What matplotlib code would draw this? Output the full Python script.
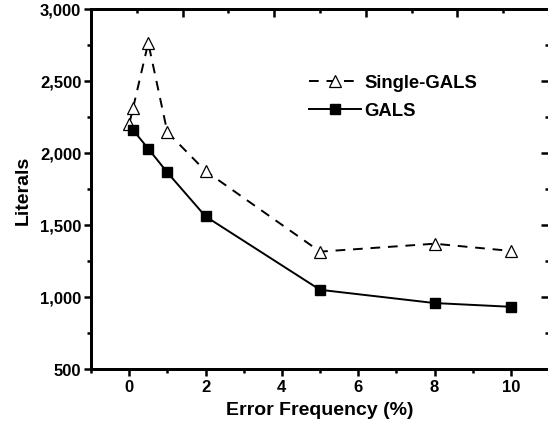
import matplotlib
matplotlib.use('Agg')
import matplotlib.pyplot as plt
from matplotlib.ticker import MultipleLocator, FuncFormatter, NullFormatter

plt.rcParams['font.family'] = 'Liberation Sans'
plt.rcParams['font.weight'] = 'bold'

# data
single_x = [0, 0.1, 0.5, 1, 2, 5, 8, 10]
single_y = [2200, 2310, 2765, 2145, 1875, 1315, 1370, 1320]
gals_x = [0.1, 0.5, 1, 2, 5, 8, 10]
gals_y = [2160, 2030, 1865, 1560, 1050, 958, 932]

fig = plt.figure(figsize=(5.48, 4.27), dpi=100)
ax = fig.add_axes([91/548, 57/427, 458/548, 360/427])

ax.plot(single_x, single_y, color='black', linestyle=(0, (5, 4)), linewidth=1.4,
        marker='^', markersize=8.5, markerfacecolor='white', markeredgecolor='black',
        markeredgewidth=0.9, label='Single-GALS')
ax.plot(gals_x, gals_y, color='black', linestyle='-', linewidth=1.4,
        marker='s', markersize=6.5, markerfacecolor='black', markeredgecolor='black',
        label='GALS')

ax.set_xlim(-1, 11)
ax.set_ylim(500, 3000)
ax.xaxis.set_major_locator(MultipleLocator(2))
ax.xaxis.set_minor_locator(MultipleLocator(1))
ax.yaxis.set_major_locator(MultipleLocator(500))
ax.yaxis.set_minor_locator(MultipleLocator(250))
ax.yaxis.set_major_formatter(FuncFormatter(lambda v, p: '{:,.0f}'.format(v)))

ax.tick_params(which='both', direction='out', width=1.8, labelsize=12, pad=2)
ax.tick_params(which='major', length=5)
ax.tick_params(which='minor', length=3)
for s in ax.spines.values():
    s.set_linewidth(2)

# mirrored right axis, inward ticks
ay = ax.twinx()
ay.set_ylim(ax.get_ylim())
ay.yaxis.set_major_locator(MultipleLocator(500))
ay.yaxis.set_minor_locator(MultipleLocator(250))
ay.yaxis.set_major_formatter(NullFormatter())
ay.tick_params(which='both', direction='in', width=1.8)
ay.tick_params(which='major', length=6)
ay.tick_params(which='minor', length=3)

# top axis, inward ticks, own divisions
at = ax.twiny()
at.set_xlim(0, 1)
at.xaxis.set_major_locator(MultipleLocator(0.2))
at.xaxis.set_minor_locator(MultipleLocator(0.1))
at.xaxis.set_major_formatter(NullFormatter())
at.tick_params(which='both', direction='in', width=1.8)
at.tick_params(which='major', length=6)
at.tick_params(which='minor', length=3)
for s in list(ay.spines.values()) + list(at.spines.values()):
    s.set_linewidth(2)

ax.set_xlabel('Error Frequency (%)', fontsize=14, fontweight='bold', labelpad=5)
ax.set_ylabel('Literals', fontsize=14, fontweight='bold', labelpad=6)

ax.legend(loc='upper left', bbox_to_anchor=(0.44, 0.865), frameon=False,
          fontsize=13.3, handlelength=2.8, handletextpad=0.2, labelspacing=0.6)

fig.savefig('out.png', dpi=100)
